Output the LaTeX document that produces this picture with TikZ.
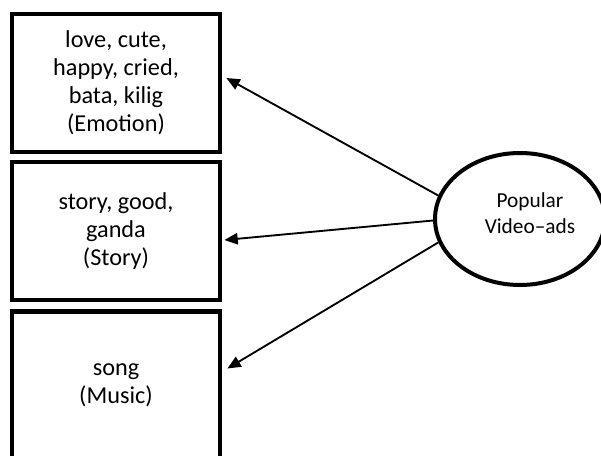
\documentclass[tikz,border=0pt]{standalone}
\usepackage{fontspec}
\setmainfont{Carlito}
\usetikzlibrary{arrows.meta,shapes.geometric}

\tikzset{
  theme/.style={draw,line width=3.6pt,minimum width=156pt,align=center,
    font=\fontsize{18.2}{21}\selectfont},
  topic/.style={draw,ellipse,line width=3pt,inner sep=0pt,minimum width=127.5pt,
    minimum height=99pt},
  topictext/.style={align=center,font=\fontsize{16}{19.5}\selectfont},
  link/.style={line width=1.4pt,-{Triangle[length=10pt,width=8.5pt]}}
}

\begin{document}
\begin{tikzpicture}[x=0.75pt,y=0.75pt]
\useasboundingbox (0,0) rectangle (601,455);
\clip (0,0) rectangle (601,455);

% Themes
\node[theme,minimum height=103.5pt] (emo) at (116,372) {love, cute,\\happy, cried,\\bata, kilig\\(Emotion)};
\node[theme,minimum height=103.5pt] (sto) at (116,224) {story, good,\\ganda\\(Story)};
\node[theme,minimum height=111pt] (mus) at (116,69.5) {song\\(Music)};

% Ad type
\node[topic] (pop) at (520,236) {};
\node[topictext] (poplabel) at ([shift={(10,6)}]pop.center) {Popular\\Video--ads};

% Arrows
\draw[link] (pop.164) -- ([shift={(4,5)}]emo.east);
\draw[link] (pop.181) -- ([shift={(2,-9)}]sto.east);
\draw[link] (pop.196) -- ([shift={(5,17)}]mus.east);

\end{tikzpicture}
\end{document}
